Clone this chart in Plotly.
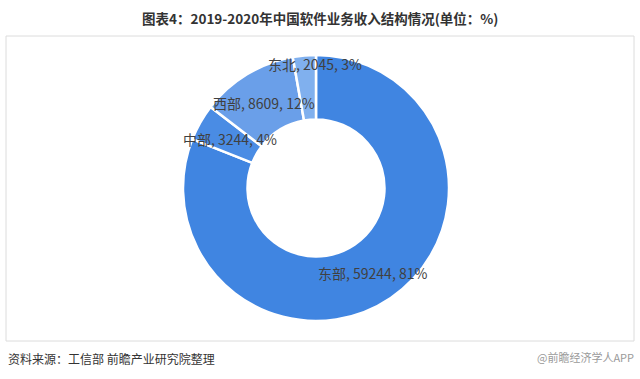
import plotly.graph_objects as go

regions = ["东部", "中部", "西部", "东北"]
values = [59244, 3244, 8609, 2045]
percents = ["81%", "4%", "12%", "3%"]
colors = ["#4085E1", "#4A8CE4", "#6A9FE9", "#80B0EE"]

# label anchor positions (paper coords) for each slice label
label_x = [372 / 640, 230 / 640, 264 / 640, 315 / 640]
label_y = [1 - 273 / 379, 1 - 139 / 379, 1 - 103 / 379, 1 - 64 / 379]

cx, cy, r = 316 / 640, 1 - 188 / 379, 133
fig = go.Figure(go.Pie(
    labels=regions,
    values=values,
    hole=0.515,
    sort=False,
    direction="clockwise",
    rotation=0,
    textinfo="none",
    hoverinfo="label+value+percent",
    marker=dict(colors=colors, line=dict(color="white", width=2.5)),
    domain=dict(x=[cx - r / 640, cx + r / 640], y=[cy - r / 379, cy + r / 379]),
    showlegend=False,
))

for name, v, p, x, y in zip(regions, values, percents, label_x, label_y):
    fig.add_annotation(x=x, y=y, xref="paper", yref="paper", showarrow=False,
                       xanchor="center", yanchor="middle",
                       text=f"{name}, {v}, {p}",
                       font=dict(family="Noto Sans CJK SC", size=14, color="#404040"))

fig.add_annotation(x=0.5, y=1 - 18 / 379, xref="paper", yref="paper", showarrow=False,
                   xanchor="center", yanchor="middle",
                   text="<b>图表4：2019-2020年中国软件业务收入结构情况(单位：%)</b>",
                   font=dict(family="Noto Sans CJK SC", size=13.5, color="#333333"))
fig.add_annotation(x=6 / 640, y=1 - 358 / 379, xref="paper", yref="paper", showarrow=False,
                   xanchor="left", yanchor="middle", text="资料来源：工信部 前瞻产业研究院整理",
                   font=dict(family="Noto Sans CJK SC", size=12, color="#333333"))
fig.add_annotation(x=636 / 640, y=1 - 357 / 379, xref="paper", yref="paper", showarrow=False,
                   xanchor="right", yanchor="middle", text="@前瞻经济学人APP",
                   font=dict(family="Noto Sans CJK SC", size=11, color="#9a9a9a"))

fig.add_shape(type="rect", xref="paper", yref="paper",
              x0=6 / 640, x1=634 / 640, y0=1 - 341 / 379, y1=1 - 36 / 379,
              line=dict(color="#dcdcdc", width=1), layer="below")

fig.update_layout(width=640, height=379, margin=dict(l=0, r=0, t=0, b=0),
                  paper_bgcolor="white", plot_bgcolor="white")
fig.write_html("out.html", config={"displayModeBar": False},
               post_script="document.body.style.margin='0';document.body.style.overflow='hidden';")
